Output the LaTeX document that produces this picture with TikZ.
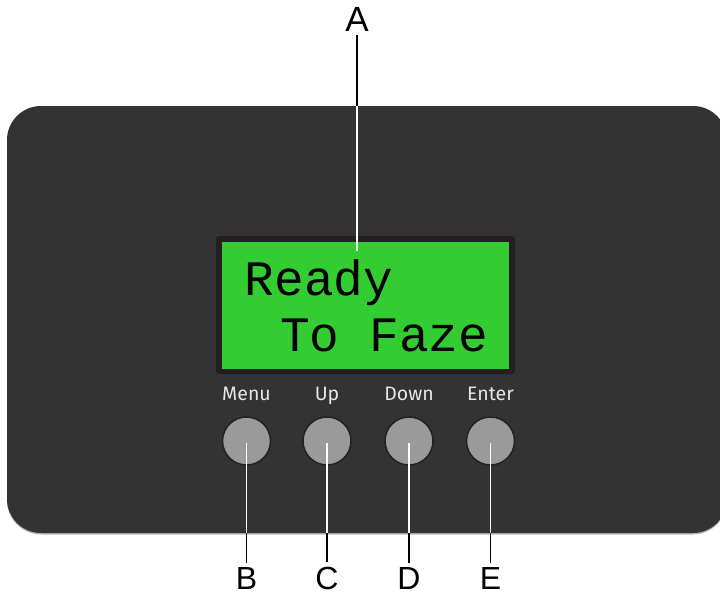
\documentclass[tikz,border=0pt]{standalone}
\usepackage{fontspec}
\setmainfont{Liberation Sans}
\newfontfamily\lcdfont{Liberation Mono}
\newfontfamily\keyfont{Fira Sans}
\definecolor{panelgray}{HTML}{333333}
\definecolor{shadowgray}{HTML}{B5B5B5}
\definecolor{lcdframe}{HTML}{231F20}
\definecolor{lcdgreen}{HTML}{33CC33}
\definecolor{keygray}{HTML}{9A9A9A}
\definecolor{keyrim}{HTML}{222222}
\definecolor{keytext}{HTML}{E6E6E6}
\tikzset{
  keybtn/.style={circle, fill=keygray, draw=keyrim, line width=1.5pt, minimum size=48pt, inner sep=0pt},
  keylabel/.style={font=\keyfont\fontsize{19.5}{19.5}\selectfont, text=keytext, anchor=base, inner sep=0pt},
  callout/.style={font=\fontsize{32}{32}\selectfont, text=black, anchor=base, inner sep=0pt},
  lcdtext/.style={font=\lcdfont\fontsize{49.5}{49.5}\selectfont, text=black, anchor=base west, inner sep=0pt},
  leadwhite/.style={draw=white, line width=1.5pt},
  leadblack/.style={draw=black, line width=1.5pt}
}
\begin{document}
\begin{tikzpicture}[x=1pt, y=-1pt]
\useasboundingbox (0,0) rectangle (720,594);
\clip (0,0) rectangle (720,594);
% panel with faint shadow
\fill[shadowgray, rounded corners=34pt] (7,107.5) rectangle (727,534.5);
\fill[panelgray, rounded corners=34pt] (7,106) rectangle (727,533);
% LCD
\fill[lcdframe, rounded corners=3pt] (216,236) rectangle (515,374);
\fill[lcdgreen] (222,242) rectangle (509,369);
\node[lcdtext] (l1) at (244.5,295) {Ready};
\node[lcdtext] (l2) at (280,351) {To Faze};
% callout A
\node[callout, font=\fontsize{35}{35}\selectfont] (A) at (357,32) {A};
\coordinate (tA) at (357,106);
\coordinate (pA) at (357,251);
\draw[leadblack, shorten <=2.5pt] (A.south) -- (tA);
\draw[leadwhite] (tA) -- (pA);
% keys
\foreach \n/\x/\t/\c in {menu/246.5/Menu/B, up/327/Up/C, down/409/Down/D, enter/490.5/Enter/E}{
  \node[keylabel] (\n lab) at (\x,400) {\t};
  \node[keybtn] (\n) at (\x,441) {};
  \coordinate (\n p) at (\x,443);
  \coordinate (\n b) at (\x,533);
  \node[callout] (\c) at (\x,589) {\c};
  \draw[leadwhite] (\n p) -- (\n b);
  \draw[leadblack, shorten >=4pt] (\n b) -- (\c.north);
}
\end{tikzpicture}
\end{document}
